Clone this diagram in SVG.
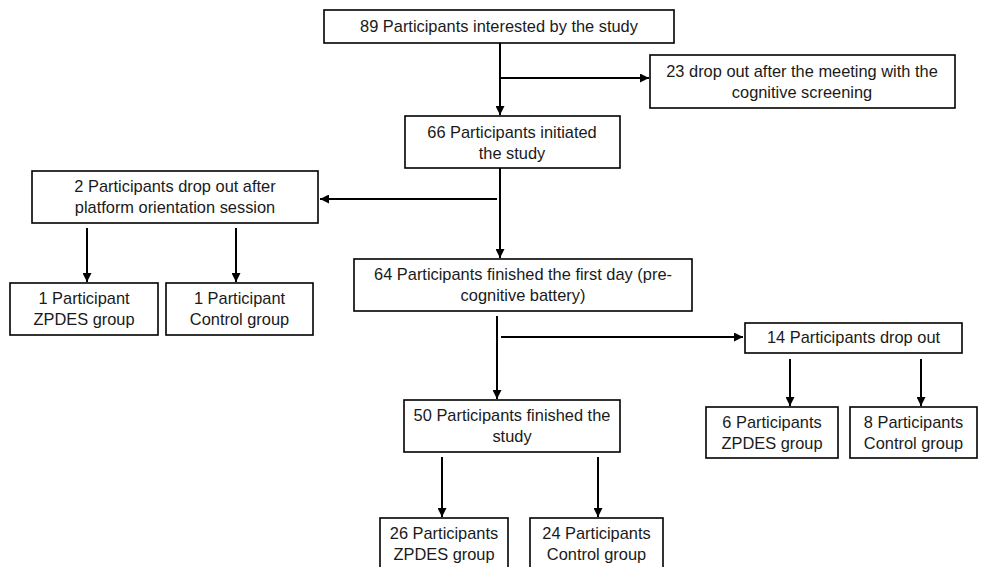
<svg xmlns="http://www.w3.org/2000/svg" width="982" height="567" viewBox="0 0 982 567">
<style>
rect.box{fill:#fff;stroke:#000;stroke-width:1.6}
text{font-family:"Liberation Sans",Arial,sans-serif;font-size:16.4px;fill:#1a1a1a;text-anchor:middle}
.c line{stroke:#000;stroke-width:2;fill:none}
</style>
<defs>
<marker id="ah" markerUnits="userSpaceOnUse" markerWidth="9" markerHeight="9" refX="9" refY="4.5" orient="auto">
<path d="M0,0 L9,4.5 L0,9 z" fill="#000"/>
</marker>
</defs>
<rect width="982" height="567" fill="#fff"/>
<g class="c" id="connectors">
<line x1="500" y1="43" x2="500" y2="115" marker-end="url(#ah)"/>
<line x1="500" y1="78" x2="649" y2="78" marker-end="url(#ah)"/>
<line x1="500" y1="168" x2="500" y2="258" marker-end="url(#ah)"/>
<line x1="497" y1="199" x2="320" y2="199" marker-end="url(#ah)"/>
<line x1="87" y1="228" x2="87" y2="282" marker-end="url(#ah)"/>
<line x1="236" y1="228" x2="236" y2="282" marker-end="url(#ah)"/>
<line x1="497" y1="316" x2="497" y2="399" marker-end="url(#ah)"/>
<line x1="501" y1="337" x2="743" y2="337" marker-end="url(#ah)"/>
<line x1="790" y1="359" x2="790" y2="406" marker-end="url(#ah)"/>
<line x1="921" y1="359" x2="921" y2="406" marker-end="url(#ah)"/>
<line x1="442" y1="457" x2="442" y2="517" marker-end="url(#ah)"/>
<line x1="598" y1="457" x2="598" y2="517" marker-end="url(#ah)"/>
</g>
<g id="n89"><rect class="box" x="324" y="10" width="350" height="33"/><text x="499" y="32">89 Participants interested by the study</text></g>
<g id="n23"><rect class="box" x="650" y="55" width="305" height="53"/><text x="802" y="77">23 drop out after the meeting with the</text><text x="802" y="98">cognitive screening</text></g>
<g id="n66"><rect class="box" x="405" y="116" width="215" height="52"/><text x="512" y="138">66 Participants initiated</text><text x="512" y="159">the study</text></g>
<g id="n2"><rect class="box" x="32" y="171" width="286" height="52"/><text x="175" y="192">2 Participants drop out after</text><text x="175" y="213">platform orientation session</text></g>
<g id="n1a"><rect class="box" x="10" y="283" width="148" height="52"/><text x="84" y="304">1 Participant</text><text x="84" y="325">ZPDES group</text></g>
<g id="n1b"><rect class="box" x="166" y="283" width="147" height="52"/><text x="239.5" y="304">1 Participant</text><text x="239.5" y="325">Control group</text></g>
<g id="n64"><rect class="box" x="354" y="259" width="338" height="52"/><text x="523" y="280">64 Participants finished the first day (pre-</text><text x="523" y="301">cognitive battery)</text></g>
<g id="n14"><rect class="box" x="745" y="323" width="217" height="30"/><text x="853.5" y="343">14 Participants drop out</text></g>
<g id="n6"><rect class="box" x="706" y="407" width="132" height="51"/><text x="772" y="428">6 Participants</text><text x="772" y="449">ZPDES group</text></g>
<g id="n8"><rect class="box" x="850" y="407" width="127" height="51"/><text x="913.5" y="428">8 Participants</text><text x="913.5" y="449">Control group</text></g>
<g id="n50"><rect class="box" x="404" y="400" width="216" height="52"/><text x="512" y="421">50 Participants finished the</text><text x="512" y="442">study</text></g>
<g id="n26"><rect class="box" x="380" y="518" width="128" height="60"/><text x="444" y="539">26 Participants</text><text x="444" y="560">ZPDES group</text></g>
<g id="n24"><rect class="box" x="530" y="518" width="133" height="60"/><text x="596.5" y="539">24 Participants</text><text x="596.5" y="560">Control group</text></g>
</svg>
